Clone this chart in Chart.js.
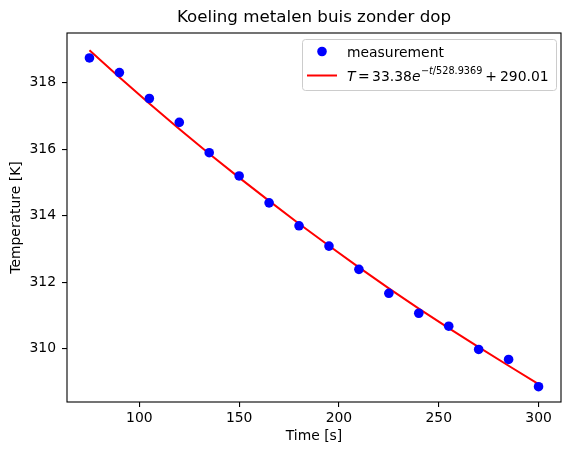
<!DOCTYPE html>
<html>
<head>
<meta charset="utf-8">
<script src="https://cdn.jsdelivr.net/npm/chart.js@4/dist/chart.umd.min.js"></script>
<style>html,body{margin:0;padding:0;background:#fff}</style>
</head>
<body>
<canvas id="myChart" width="571" height="455"></canvas>
<script>
// meetpunten
const times = [75, 90, 105, 120, 135, 150, 165, 180, 195, 210, 225, 240, 255, 270, 285, 300]
const measured = [318.75, 318.31, 317.53, 316.81, 315.9, 315.2, 314.39, 313.7, 313.09, 312.39, 311.67, 311.07, 310.68, 309.98, 309.68, 308.86]
// fit curve
const fitted = [318.98, 318.17, 317.38, 316.61, 315.87, 315.15, 314.45, 313.76, 313.10, 312.45, 311.82, 311.21, 310.62, 310.05, 309.49, 308.94]
const xTicks = [100, 150, 200, 250, 300]
const yTicks = [310, 312, 314, 316, 318]

const FONT = 'DejaVu Sans'

// frame, title and legend drawn matplotlib-style
const mplDecor = {
  id: 'mplDecor',
  afterDraw(chart) {
    const ctx = chart.ctx
    const a = chart.chartArea
    ctx.save()
    ctx.strokeStyle = '#000'
    ctx.lineWidth = 1.1
    ctx.strokeRect(a.left, a.top, a.right - a.left, a.bottom - a.top)

    ctx.fillStyle = '#000'
    ctx.font = `16.7px ${FONT}`
    ctx.textAlign = 'center'
    ctx.textBaseline = 'middle'
    ctx.fillText('Koeling metalen buis zonder dop', (a.left + a.right) / 2, 18)

    // legend box
    const bx = 302.5, by = 39.5, bw = 254, bh = 51
    ctx.beginPath()
    ctx.roundRect(bx, by, bw, bh, 3)
    ctx.fillStyle = 'rgba(255,255,255,0.8)'
    ctx.fill()
    ctx.strokeStyle = '#cccccc'
    ctx.lineWidth = 1
    ctx.stroke()

    ctx.beginPath()
    ctx.arc(322, 51.5, 4.8, 0, Math.PI * 2)
    ctx.fillStyle = 'blue'
    ctx.fill()

    ctx.strokeStyle = 'red'
    ctx.lineWidth = 2
    ctx.beginPath()
    ctx.moveTo(307, 75.5)
    ctx.lineTo(337, 75.5)
    ctx.stroke()

    ctx.fillStyle = '#000'
    ctx.textAlign = 'left'
    ctx.textBaseline = 'alphabetic'
    ctx.font = `13.9px ${FONT}`
    ctx.fillText(chart.data.datasets[0].label, 347, 56.5)

    // T = 33.38 e^{-t/528.9369} + 290.01
    let x = 347
    const base = 80.5
    const put = (txt, style, size, dy, gap) => {
      ctx.font = `${style} ${size}px ${FONT}`
      ctx.fillText(txt, x, base + dy)
      x += ctx.measureText(txt).width + gap
    }
    put('T', 'italic', 13.9, 0, 2.5)
    put('=', 'normal', 13.9, 0, 2.5)
    put('33.38', 'normal', 13.9, 0, 0)
    put('e', 'italic', 13.9, 0, 0.5)
    put('\u2212', 'normal', 9.7, -7, 0)
    put('t', 'italic', 9.7, -7, 0)
    put('/528.9369', 'normal', 9.7, -7, 3)
    put('+', 'normal', 13.9, 0, 3)
    put('290.01', 'normal', 13.9, 0, 0)
    ctx.restore()
  }
}

const ctx = document.getElementById('myChart').getContext('2d')
const myChart = new Chart(ctx, {
  type: 'scatter',
  data: {
    datasets: [
      {
        label: 'measurement',
        data: times.map((t, i) => ({ x: t, y: measured[i] })),
        backgroundColor: 'blue',
        borderColor: 'blue',
        pointRadius: 4.8,
        pointHoverRadius: 4.8,
        borderWidth: 0,
        order: 1,
      },
      {
        label: 'fit',
        type: 'line',
        data: times.map((t, i) => ({ x: t, y: fitted[i] })),
        borderColor: 'red',
        borderWidth: 2,
        pointRadius: 0,
        tension: 0,
        fill: false,
        order: 2,
      },
    ],
  },
  options: {
    responsive: false,
    animation: false,
    devicePixelRatio: 1,
    layout: { padding: { top: 33, right: 10, left: 0, bottom: 0 } },
    plugins: { legend: { display: false }, title: { display: false }, tooltip: { enabled: false } },
    scales: {
      x: {
        type: 'linear',
        min: 63.75,
        max: 311.25,
        afterBuildTicks: (s) => { s.ticks = xTicks.map((v) => ({ value: v })) },
        afterFit: (s) => { s.height = 53 },
        border: { display: false },
        grid: { drawOnChartArea: false, drawTicks: true, tickLength: 5, color: '#000', lineWidth: 1.1 },
        ticks: { color: '#000', font: { family: FONT, size: 13.9 }, padding: 3, maxRotation: 0 },
        title: { display: true, text: 'Time [s]', color: '#000', font: { family: FONT, size: 13.9 }, padding: { top: 0, bottom: 10 } },
      },
      y: {
        type: 'linear',
        min: 308.4,
        max: 319.5,
        afterBuildTicks: (s) => { s.ticks = yTicks.map((v) => ({ value: v })) },
        afterFit: (s) => { s.width = 67 },
        border: { display: false },
        grid: { drawOnChartArea: false, drawTicks: true, tickLength: 5, color: '#000', lineWidth: 1.1 },
        ticks: { color: '#000', font: { family: FONT, size: 13.9 }, padding: 6 },
        title: { display: true, text: 'Temperature [K]', color: '#000', font: { family: FONT, size: 13.9 }, padding: { top: 8, bottom: 0 } },
      },
    },
  },
  plugins: [mplDecor],
})
</script>
</body>
</html>
